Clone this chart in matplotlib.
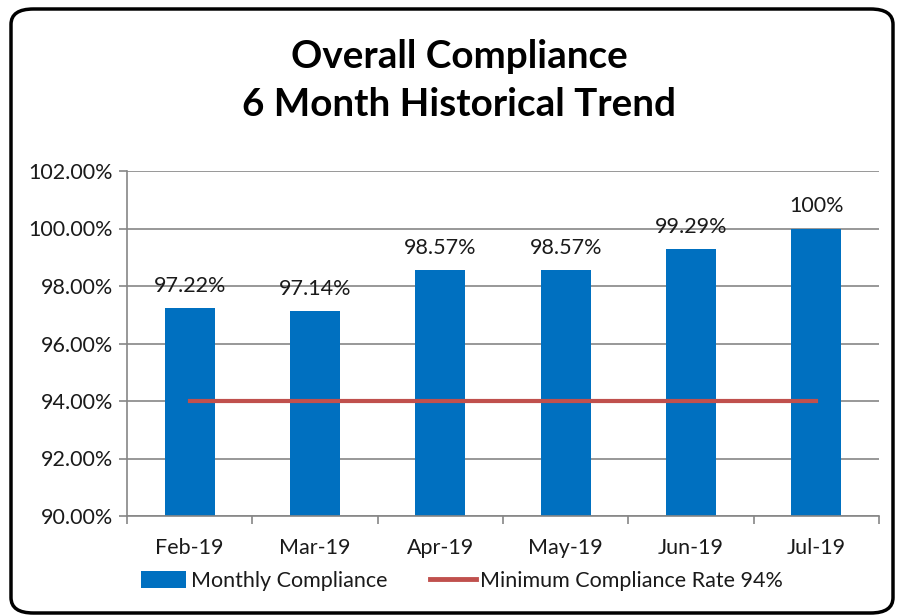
import matplotlib
matplotlib.use("Agg")
import matplotlib.pyplot as plt
from matplotlib.patches import FancyBboxPatch
from matplotlib.lines import Line2D
from matplotlib.patches import Patch
import numpy as np

categories = ["Feb-19", "Mar-19", "Apr-19", "May-19", "Jun-19", "Jul-19"]
monthly = [97.22, 97.14, 98.57, 98.57, 99.29, 100.0]
labels = ["97.22%", "97.14%", "98.57%", "98.57%", "99.29%", "100%"]
minimum = [94, 94, 94, 94, 94, 94]
yticks = [90, 92, 94, 96, 98, 100, 102]

plt.rcParams['font.family'] = ['Lato', 'DejaVu Sans']

W, H = 897, 616
fig = plt.figure(figsize=(W/100, H/100), dpi=100)

# frame
frame = FancyBboxPatch((11/W, 3/H), (893-11)/W, (607-3)/H,
                       boxstyle="round,pad=0,rounding_size=0.025",
                       transform=fig.transFigure, facecolor="white",
                       edgecolor="black", linewidth=2.5, zorder=-5)
fig.patches.append(frame)

ax = fig.add_axes([127/W, 1-516/H, (879-127)/W, (516-171)/H], zorder=2)
ax.set_facecolor("none")
x = np.arange(len(categories))
ax.bar(x, monthly, width=0.4, color="#0070C0", zorder=2, bottom=0)
ax.plot(x, minimum, color="#C0504D", linewidth=3, zorder=3)
fs = 15.5
for xi, v, lab in zip(x, monthly, labels):
    ax.text(xi, v + 0.42, lab, ha="center", va="bottom", fontsize=fs, color="#1a1a1a", zorder=4)

ax.set_xlim(-0.5, len(categories) - 0.5)
ax.set_ylim(90, 102)
ax.set_yticks(yticks)
ax.set_yticklabels([f"{t:.2f}%" for t in yticks], fontsize=fs, color="#1a1a1a")
ax.set_xticks(x)
ax.set_xticklabels(categories, fontsize=fs, color="#1a1a1a")
ax.set_xticks(np.arange(-0.5, len(categories)), minor=True)
ax.tick_params(axis="x", which="major", length=0, pad=16)
ax.tick_params(axis="x", which="minor", length=6, color="#868686", width=1.2)
ax.tick_params(axis="y", length=6, color="#868686", width=1.2, direction="out", pad=4)
ax.yaxis.grid(True, color="#868686", linewidth=1.2, zorder=1)
ax.set_axisbelow(True)
for s in ["top", "right"]:
    ax.spines[s].set_visible(False)
for s in ["left", "bottom"]:
    ax.spines[s].set_color("#868686")
    ax.spines[s].set_linewidth(1.2)

fig.text(459/W, 1-57/H, "Overall Compliance", ha="center", va="center",
         fontsize=27.8, fontweight="bold")
fig.text(459/W, 1-105/H, "6 Month Historical Trend", ha="center", va="center",
         fontsize=27.8, fontweight="bold")

handles = [Patch(facecolor="#0070C0", edgecolor="none"),
           Line2D([0], [0], color="#C0504D", linewidth=3.5)]
leg = fig.legend(handles, ["Monthly Compliance", "Minimum Compliance Rate 94%"],
                 loc="center", bbox_to_anchor=(462/W, 1-581/H), ncol=2, frameon=False,
                 fontsize=fs, handlelength=2.1, handletextpad=0.2, columnspacing=2.0,
                 handleheight=0.8)
for t in leg.get_texts():
    t.set_color("#1a1a1a")

fig.savefig("out.png", dpi=100)
